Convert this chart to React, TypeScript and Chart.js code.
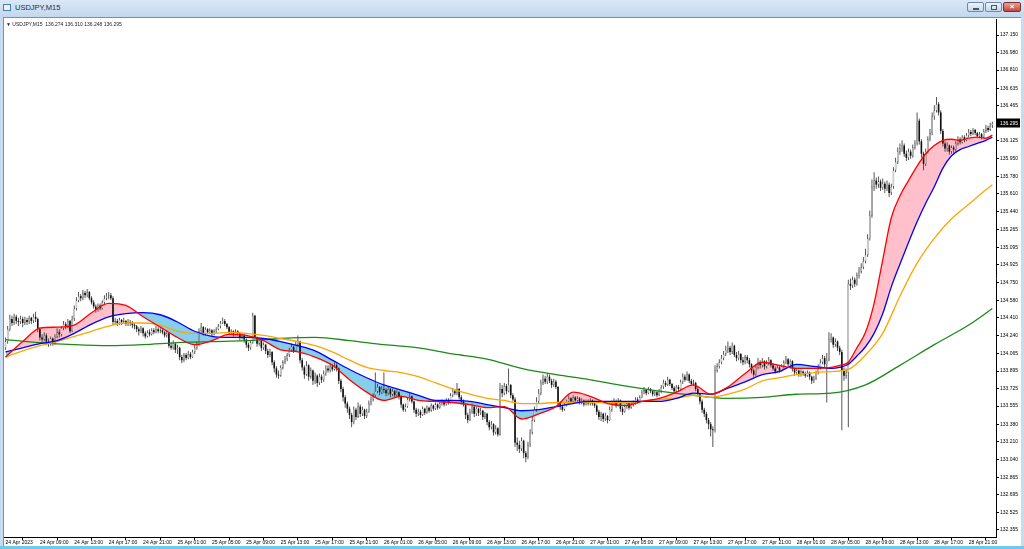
import React, { useEffect, useRef } from 'react';
import { Chart, registerables } from 'chart.js';

Chart.register(...registerables);

// ---- USDJPY M15 bars (index 0 = 24 Apr 05:00), 16 bars per line (4 hours) ----
const opens = [
  134.12,134.18,134.30,134.40,134.36,134.42,134.38,134.37,134.40,134.36,134.39,134.37,134.41,134.38,134.42,134.40,
  134.30,134.22,134.20,134.24,134.18,134.16,134.21,134.17,134.23,134.27,134.25,134.31,134.35,134.33,134.38,134.28,
  134.40,134.50,134.58,134.62,134.60,134.65,134.63,134.66,134.60,134.56,134.52,134.49,134.53,134.50,134.56,134.60,
  134.62,134.63,134.60,134.37,134.38,134.36,134.39,134.37,134.38,134.35,134.37,134.36,134.34,134.33,134.30,134.28,
  134.31,134.26,134.23,134.27,134.25,134.29,134.27,134.30,134.28,134.29,134.27,134.24,134.26,134.14,134.12,134.16,
  134.10,134.12,134.03,134.00,134.05,134.02,134.06,134.03,134.08,134.12,134.15,134.28,134.32,134.26,134.30,134.27,
  134.29,134.25,134.28,134.30,134.33,134.36,134.38,134.35,134.32,134.27,134.28,134.25,134.28,134.26,134.22,134.24,
  134.20,134.15,134.12,134.17,134.43,134.22,134.16,134.19,134.12,134.15,134.09,134.05,134.08,133.98,133.92,133.86,
  133.85,133.93,133.98,134.01,134.05,134.10,134.13,134.09,134.15,134.18,134.00,133.93,133.86,133.95,133.84,133.90,
  133.80,133.85,133.78,133.84,133.81,133.87,133.92,133.90,133.94,133.91,133.95,133.92,133.80,133.72,133.64,133.58,
  133.53,133.47,133.40,133.52,133.45,133.55,133.48,133.52,133.46,133.50,133.58,133.62,133.66,133.70,133.74,133.69,
  133.72,133.71,133.68,133.72,133.67,133.70,133.66,133.69,133.65,133.57,133.52,133.55,133.62,133.65,133.60,133.52,
  133.48,133.50,133.47,133.53,133.49,133.54,133.51,133.56,133.53,133.57,133.54,133.58,133.60,133.57,133.61,133.59,
  133.66,133.70,133.68,133.72,133.64,133.60,133.57,133.47,133.42,133.50,133.55,133.48,133.53,133.49,133.51,133.45,
  133.48,133.40,133.35,133.38,133.30,133.34,133.28,133.72,133.68,133.75,133.70,133.76,133.66,133.62,133.20,133.18,
  133.14,133.22,133.10,133.06,133.18,133.30,133.42,133.52,133.60,133.68,133.78,133.82,133.79,133.84,133.80,133.76,
  133.79,133.74,133.58,133.55,133.52,133.57,133.60,133.63,133.60,133.64,133.61,133.63,133.59,133.61,133.57,133.60,
  133.58,133.61,133.58,133.56,133.50,133.45,133.48,133.43,133.46,133.42,133.52,133.58,133.60,133.56,133.61,133.53,
  133.50,133.55,133.58,133.54,133.57,133.59,133.62,133.60,133.64,133.69,133.71,133.68,133.72,133.70,133.67,133.69,
  133.66,133.70,133.74,133.78,133.76,133.81,133.77,133.73,133.70,133.74,133.72,133.79,133.84,133.81,133.86,133.80,
  133.77,133.78,133.72,133.67,133.60,133.52,133.48,133.42,133.38,133.33,133.32,133.90,133.94,133.98,134.02,134.06,
  134.10,134.12,134.08,134.14,134.05,134.02,134.06,134.00,133.98,134.03,134.00,133.96,133.90,133.86,133.93,133.98,
  133.95,133.99,133.94,133.97,134.00,133.95,133.92,133.89,133.93,133.90,133.94,133.98,134.01,133.96,133.99,133.92,
  133.88,133.90,133.86,133.89,133.87,133.85,133.88,133.84,133.80,133.82,133.88,133.93,133.98,134.02,133.96,134.00,
  134.20,134.22,134.15,134.18,134.12,134.08,133.90,133.85,133.88,134.74,134.72,134.78,134.74,134.82,134.86,134.90,
  134.96,135.02,135.18,135.40,135.68,135.74,135.70,135.73,135.67,135.71,135.66,135.70,135.62,135.68,135.84,135.92,
  136.02,136.05,136.08,136.00,135.96,136.02,135.98,136.06,136.10,136.32,136.12,136.00,135.90,136.02,136.14,136.20,
  136.36,136.42,136.48,136.40,136.22,136.10,136.05,136.08,136.02,136.06,136.04,136.10,136.14,136.11,136.16,136.13,
  136.18,136.21,136.19,136.23,136.20,136.17,136.19,136.16,136.22,136.25,136.23,136.274,
];
const highs = [
  134.22,134.33,134.44,134.43,134.45,134.44,134.41,134.43,134.42,134.42,134.41,134.43,134.42,134.45,134.47,134.41,
  134.32,134.25,134.27,134.26,134.21,134.23,134.22,134.25,134.31,134.30,134.33,134.38,134.37,134.40,134.39,134.43,
  134.53,134.61,134.66,134.64,134.68,134.67,134.69,134.67,134.62,134.58,134.54,134.55,134.55,134.58,134.63,134.65,
  134.66,134.65,134.62,134.41,134.40,134.41,134.40,134.41,134.39,134.40,134.39,134.38,134.36,134.34,134.32,134.33,
  134.32,134.28,134.29,134.30,134.31,134.31,134.33,134.32,134.31,134.30,134.28,134.29,134.27,134.17,134.19,134.17,
  134.15,134.13,134.05,134.07,134.07,134.09,134.08,134.10,134.15,134.18,134.31,134.36,134.33,134.32,134.31,134.31,
  134.30,134.30,134.32,134.35,134.38,134.41,134.40,134.36,134.33,134.30,134.29,134.30,134.29,134.27,134.26,134.25,
  134.21,134.17,134.19,134.46,134.44,134.23,134.21,134.20,134.17,134.16,134.11,134.11,134.09,134.00,133.94,133.90,
  133.95,134.00,134.04,134.07,134.12,134.16,134.14,134.18,134.24,134.19,134.02,133.95,133.99,133.96,133.93,133.91,
  133.88,133.86,133.87,133.86,133.90,133.95,133.95,133.97,133.96,133.98,133.97,133.93,133.82,133.74,133.66,133.60,
  133.55,133.49,133.55,133.54,133.59,133.57,133.55,133.53,133.53,133.61,133.65,133.68,133.88,133.77,133.75,133.75,
  133.88,133.73,133.74,133.73,133.72,133.71,133.71,133.70,133.66,133.58,133.58,133.64,133.68,133.66,133.61,133.54,
  133.53,133.52,133.55,133.54,133.56,133.55,133.58,133.57,133.59,133.58,133.60,133.62,133.61,133.63,133.63,133.68,
  133.73,133.72,133.78,133.73,133.66,133.62,133.58,133.49,133.53,133.58,133.56,133.55,133.54,133.54,133.52,133.50,
  133.49,133.42,133.41,133.39,133.37,133.35,133.78,133.76,133.78,133.77,133.92,133.77,133.68,133.64,133.25,133.22,
  133.25,133.23,133.12,133.21,133.33,133.45,133.55,133.64,133.72,133.81,133.86,133.85,133.87,133.86,133.82,133.82,
  133.81,133.75,133.60,133.57,133.59,133.62,133.66,133.64,133.66,133.65,133.65,133.64,133.63,133.62,133.62,133.62,
  133.63,133.62,133.60,133.57,133.52,133.50,133.49,133.49,133.47,133.55,133.61,133.63,133.62,133.63,133.62,133.55,
  133.57,133.60,133.59,133.59,133.61,133.64,133.64,133.66,133.71,133.74,133.72,133.74,133.73,133.71,133.71,133.70,
  133.72,133.76,133.81,133.80,133.84,133.82,133.78,133.75,133.76,133.76,133.81,133.87,133.86,133.89,133.87,133.82,
  133.81,133.79,133.74,133.68,133.62,133.54,133.50,133.44,133.40,133.36,133.95,133.97,134.01,134.05,134.09,134.14,
  134.18,134.14,134.17,134.15,134.08,134.09,134.07,134.03,134.05,134.05,134.02,133.97,133.92,133.96,134.02,134.00,
  134.02,134.00,134.00,134.03,134.01,133.97,133.94,133.95,133.94,133.96,134.00,134.04,134.02,134.01,134.00,133.93,
  133.92,133.91,133.91,133.90,133.89,133.90,133.89,133.85,133.85,133.90,133.96,134.01,134.05,134.04,134.07,134.27,
  134.26,134.23,134.21,134.19,134.14,134.10,133.93,133.92,134.78,134.79,134.81,134.80,134.85,134.90,134.94,135.00,
  135.08,135.22,135.45,135.75,135.82,135.77,135.78,135.75,135.76,135.73,135.74,135.72,135.71,135.87,135.96,136.06,
  136.10,136.13,136.10,136.03,136.05,136.04,136.09,136.13,136.40,136.34,136.14,136.02,136.05,136.17,136.24,136.40,
  136.47,136.55,136.50,136.42,136.24,136.12,136.11,136.09,136.08,136.08,136.12,136.17,136.16,136.18,136.18,136.20,
  136.24,136.23,136.25,136.24,136.21,136.21,136.20,136.24,136.28,136.27,136.30,136.31,
];
const lows = [
  134.10,134.16,134.28,134.33,134.34,134.35,134.33,134.35,134.32,134.34,134.34,134.35,134.35,134.36,134.37,134.27,
  134.19,134.16,134.18,134.15,134.13,134.14,134.14,134.15,134.21,134.22,134.23,134.29,134.30,134.31,134.26,134.27,
  134.38,134.48,134.56,134.57,134.58,134.60,134.61,134.58,134.54,134.50,134.46,134.47,134.48,134.49,134.54,134.58,
  134.59,134.58,134.34,134.34,134.33,134.34,134.34,134.35,134.33,134.33,134.33,134.31,134.30,134.27,134.24,134.26,
  134.23,134.21,134.22,134.23,134.24,134.25,134.26,134.26,134.26,134.25,134.22,134.22,134.12,134.10,134.10,134.07,
  134.06,134.00,133.97,133.98,134.00,134.01,134.01,134.02,134.06,134.10,134.14,134.26,134.24,134.24,134.25,134.25,
  134.23,134.24,134.26,134.29,134.31,134.35,134.33,134.30,134.25,134.25,134.23,134.24,134.24,134.19,134.20,134.17,
  134.12,134.09,134.10,134.16,134.20,134.13,134.14,134.09,134.10,134.06,134.02,134.03,133.95,133.88,133.83,133.82,
  133.84,133.91,133.96,133.99,134.03,134.08,134.07,134.08,134.13,133.97,133.90,133.82,133.85,133.80,133.82,133.76,
  133.77,133.74,133.76,133.78,133.79,133.85,133.88,133.88,133.89,133.90,133.89,133.77,133.69,133.60,133.54,133.49,
  133.43,133.35,133.38,133.42,133.44,133.45,133.46,133.43,133.44,133.49,133.56,133.60,133.64,133.68,133.66,133.67,
  133.68,133.65,133.66,133.64,133.65,133.64,133.64,133.62,133.54,133.50,133.50,133.54,133.60,133.58,133.49,133.45,
  133.46,133.44,133.46,133.47,133.48,133.49,133.50,133.51,133.52,133.52,133.53,133.56,133.55,133.56,133.57,133.58,
  133.64,133.66,133.66,133.62,133.57,133.55,133.43,133.39,133.41,133.48,133.45,133.46,133.46,133.47,133.42,133.43,
  133.37,133.32,133.33,133.27,133.28,133.26,133.27,133.64,133.66,133.67,133.69,133.63,133.60,133.16,133.12,133.10,
  133.12,133.05,133.01,133.04,133.16,133.28,133.40,133.50,133.58,133.66,133.76,133.77,133.77,133.78,133.73,133.74,
  133.72,133.55,133.52,133.50,133.51,133.55,133.58,133.58,133.59,133.59,133.59,133.57,133.57,133.55,133.56,133.56,
  133.56,133.56,133.54,133.47,133.42,133.41,133.40,133.41,133.39,133.41,133.50,133.56,133.54,133.55,133.50,133.47,
  133.49,133.53,133.52,133.53,133.55,133.57,133.58,133.59,133.63,133.67,133.66,133.67,133.68,133.65,133.65,133.64,
  133.65,133.68,133.72,133.74,133.75,133.75,133.71,133.68,133.69,133.70,133.71,133.77,133.79,133.80,133.78,133.75,
  133.75,133.70,133.65,133.57,133.49,133.45,133.39,133.33,133.26,133.16,133.30,133.88,133.92,133.96,134.00,134.04,
  134.07,134.05,134.06,134.03,133.99,134.00,133.97,133.95,133.96,133.97,133.93,133.87,133.84,133.85,133.91,133.92,
  133.93,133.91,133.92,133.95,133.93,133.90,133.87,133.88,133.88,133.89,133.92,133.96,133.94,133.94,133.89,133.85,
  133.86,133.84,133.84,133.85,133.83,133.84,133.81,133.77,133.78,133.81,133.86,133.91,133.96,133.93,133.59,133.99,
  134.17,134.12,134.13,134.09,134.05,133.32,133.80,133.82,133.35,134.68,134.70,134.71,134.72,134.79,134.84,134.88,
  134.94,135.00,135.16,135.38,135.64,135.66,135.67,135.64,135.65,135.62,135.64,135.58,135.60,135.66,135.82,135.90,
  135.99,136.02,135.97,135.93,135.94,135.95,135.96,136.04,136.08,136.09,135.96,135.84,135.88,136.00,136.12,136.18,
  136.33,136.40,136.37,136.19,136.07,136.02,136.02,135.99,136.00,136.01,136.02,136.08,136.09,136.10,136.11,136.12,
  136.16,136.17,136.18,136.18,136.15,136.15,136.14,136.15,136.20,136.21,136.22,136.248,
];
const closes = [
  134.18,134.30,134.40,134.36,134.42,134.38,134.37,134.40,134.36,134.39,134.37,134.41,134.38,134.42,134.40,134.30,
  134.22,134.20,134.24,134.18,134.16,134.21,134.17,134.23,134.27,134.25,134.31,134.35,134.33,134.38,134.28,134.40,
  134.50,134.58,134.62,134.60,134.65,134.63,134.66,134.60,134.56,134.52,134.49,134.53,134.50,134.56,134.60,134.62,
  134.63,134.60,134.37,134.38,134.36,134.39,134.37,134.38,134.35,134.37,134.36,134.34,134.33,134.30,134.28,134.31,
  134.26,134.23,134.27,134.25,134.29,134.27,134.30,134.28,134.29,134.27,134.24,134.26,134.14,134.12,134.16,134.10,
  134.12,134.03,134.00,134.05,134.02,134.06,134.03,134.08,134.12,134.15,134.28,134.32,134.26,134.30,134.27,134.29,
  134.25,134.28,134.30,134.33,134.36,134.38,134.35,134.32,134.27,134.28,134.25,134.28,134.26,134.22,134.24,134.20,
  134.15,134.12,134.17,134.43,134.22,134.16,134.19,134.12,134.15,134.09,134.05,134.08,133.98,133.92,133.86,133.85,
  133.93,133.98,134.01,134.05,134.10,134.13,134.09,134.15,134.18,134.00,133.93,133.86,133.95,133.84,133.90,133.80,
  133.85,133.78,133.84,133.81,133.87,133.92,133.90,133.94,133.91,133.95,133.92,133.80,133.72,133.64,133.58,133.53,
  133.47,133.40,133.52,133.45,133.55,133.48,133.52,133.46,133.50,133.58,133.62,133.66,133.70,133.74,133.69,133.72,
  133.71,133.68,133.72,133.67,133.70,133.66,133.69,133.65,133.57,133.52,133.55,133.62,133.65,133.60,133.52,133.48,
  133.50,133.47,133.53,133.49,133.54,133.51,133.56,133.53,133.57,133.54,133.58,133.60,133.57,133.61,133.59,133.66,
  133.70,133.68,133.72,133.64,133.60,133.57,133.47,133.42,133.50,133.55,133.48,133.53,133.49,133.51,133.45,133.48,
  133.40,133.35,133.38,133.30,133.34,133.28,133.72,133.68,133.75,133.70,133.76,133.66,133.62,133.20,133.18,133.14,
  133.22,133.10,133.06,133.18,133.30,133.42,133.52,133.60,133.68,133.78,133.82,133.79,133.84,133.80,133.76,133.79,
  133.74,133.58,133.55,133.52,133.57,133.60,133.63,133.60,133.64,133.61,133.63,133.59,133.61,133.57,133.60,133.58,
  133.61,133.58,133.56,133.50,133.45,133.48,133.43,133.46,133.42,133.52,133.58,133.60,133.56,133.61,133.53,133.50,
  133.55,133.58,133.54,133.57,133.59,133.62,133.60,133.64,133.69,133.71,133.68,133.72,133.70,133.67,133.69,133.66,
  133.70,133.74,133.78,133.76,133.81,133.77,133.73,133.70,133.74,133.72,133.79,133.84,133.81,133.86,133.80,133.77,
  133.78,133.72,133.67,133.60,133.52,133.48,133.42,133.38,133.33,133.32,133.90,133.94,133.98,134.02,134.06,134.10,
  134.12,134.08,134.14,134.05,134.02,134.06,134.00,133.98,134.03,134.00,133.96,133.90,133.86,133.93,133.98,133.95,
  133.99,133.94,133.97,134.00,133.95,133.92,133.89,133.93,133.90,133.94,133.98,134.01,133.96,133.99,133.92,133.88,
  133.90,133.86,133.89,133.87,133.85,133.88,133.84,133.80,133.82,133.88,133.93,133.98,134.02,133.96,134.00,134.20,
  134.22,134.15,134.18,134.12,134.08,133.90,133.85,133.88,134.74,134.72,134.78,134.74,134.82,134.86,134.90,134.96,
  135.02,135.18,135.40,135.68,135.74,135.70,135.73,135.67,135.71,135.66,135.70,135.62,135.68,135.84,135.92,136.02,
  136.05,136.08,136.00,135.96,136.02,135.98,136.06,136.10,136.32,136.12,136.00,135.90,136.02,136.14,136.20,136.36,
  136.42,136.48,136.40,136.22,136.10,136.05,136.08,136.02,136.06,136.04,136.10,136.14,136.11,136.16,136.13,136.18,
  136.21,136.19,136.23,136.20,136.17,136.19,136.16,136.22,136.25,136.23,136.27,136.295,
];

// ---- moving averages, read at the given bar indices ----
const fastIdx = [0,8,16,24,32,40,48,56,64,72,80,88,96,104,112,120,128,136,144,152,160,168,176,184,192,200,208,216,224,232,240,248,256,264,272,280,288,296,304,312,320,328,336,344,352,360,368,376,384,388,392,396,400,404,408,412,416,420,424,428,432,436,440,444,448,452,456,459];
const redMA = [134.03,134.18,134.31,134.32,134.34,134.46,134.55,134.53,134.42,134.32,134.22,134.15,134.19,134.25,134.24,134.19,134.10,134.08,134.03,133.95,133.81,133.69,133.61,133.65,133.61,133.60,133.59,133.57,133.54,133.55,133.43,133.48,133.55,133.69,133.65,133.58,133.56,133.60,133.63,133.69,133.76,133.67,133.74,133.87,133.98,133.95,133.92,133.92,133.93,133.95,133.98,134.12,134.27,134.55,134.97,135.38,135.59,135.74,135.88,136.00,136.08,136.13,136.14,136.13,136.15,136.16,136.15,136.18];
const blueMA = [134.08,134.12,134.16,134.19,134.26,134.35,134.42,134.45,134.46,134.44,134.37,134.28,134.23,134.22,134.22,134.21,134.18,134.14,134.09,134.00,133.91,133.83,133.76,133.71,133.66,133.61,133.61,133.60,133.57,133.54,133.51,133.52,133.55,133.58,133.60,133.60,133.60,133.60,133.60,133.63,133.68,133.67,133.73,133.79,133.86,133.89,133.96,133.94,133.92,133.93,133.96,134.04,134.13,134.26,134.45,134.71,134.93,135.14,135.34,135.52,135.68,135.86,135.98,136.04,136.07,136.10,136.13,136.16];
const orangeIdx = [0,8,16,24,32,40,48,56,64,72,80,88,96,104,112,120,128,136,144,152,160,168,176,184,192,200,208,216,224,232,240,248,256,264,272,280,288,296,304,312,320,328,336,344,352,360,368,376,384,392,400,408,416,424,432,440,448,456,459];
const orangeMA = [134.03,134.09,134.14,134.18,134.23,134.28,134.33,134.36,134.36,134.34,134.28,134.26,134.26,134.27,134.26,134.24,134.21,134.18,134.14,134.08,134.00,133.93,133.90,133.88,133.84,133.78,133.72,133.67,133.63,133.61,133.58,133.58,133.59,133.59,133.59,133.59,133.59,133.60,133.62,133.63,133.66,133.64,133.67,133.72,133.80,133.83,133.86,133.88,133.89,133.91,134.05,134.26,134.62,134.94,135.18,135.37,135.51,135.65,135.70];
const greenIdx = [0,16,32,48,64,80,96,112,128,144,160,176,192,208,224,240,256,272,288,304,320,336,352,368,384,400,416,432,448,459];
const greenMA = [134.20,134.17,134.15,134.14,134.15,134.17,134.18,134.19,134.21,134.22,134.19,134.15,134.12,134.06,134.01,133.92,133.86,133.81,133.75,133.70,133.66,133.63,133.64,133.67,133.68,133.76,133.95,134.15,134.34,134.50];

// ---- axes ----
const timeTickIdx = [0,16,32,48,64,80,96,112,128,144,160,176,192,208,224,240,256,272,288,304,320,336,352,368,384,400,416,432,448];
const timeTickLabels = [
  '24 Apr 2023','24 Apr 09:00','24 Apr 13:00','24 Apr 17:00','24 Apr 21:00',
  '25 Apr 01:00','25 Apr 05:00','25 Apr 09:00','25 Apr 13:00','25 Apr 17:00','25 Apr 21:00',
  '26 Apr 01:00','26 Apr 05:00','26 Apr 09:00','26 Apr 13:00','26 Apr 17:00','26 Apr 21:00',
  '27 Apr 01:00','27 Apr 05:00','27 Apr 09:00','27 Apr 13:00','27 Apr 17:00','27 Apr 21:00',
  '28 Apr 01:00','28 Apr 05:00','28 Apr 09:00','28 Apr 13:00','28 Apr 17:00','28 Apr 21:00',
];
const priceTicks = [137.150,136.980,136.810,136.635,136.465,136.295,136.125,135.950,135.780,135.610,135.440,135.265,135.095,134.925,134.750,134.580,134.410,134.240,134.065,133.895,133.725,133.555,133.380,133.210,133.040,132.865,132.695,132.525,132.355];
const lastBar = { open: 136.274, high: 136.31, low: 136.248, close: 136.295 };

const FONT = '"Liberation Sans", Arial, sans-serif';

const priceTag = {
  id: 'priceTag',
  afterDraw(chart: any) {
    const { ctx, chartArea } = chart;
    const y = chart.scales.y;
    const v = closes[closes.length - 1];
    const py = y.getPixelForValue(v);
    ctx.save();
    ctx.fillStyle = '#000';
    ctx.fillRect(chartArea.right + 1, Math.round(py) - 4.5, 23, 9);
    ctx.fillStyle = '#fff';
    ctx.font = `5px ${FONT}`;
    ctx.textBaseline = 'middle';
    ctx.textAlign = 'left';
    ctx.fillText(v.toFixed(3), chartArea.right + 4, py);
    ctx.restore();
  },
};

function ChartCanvas() {
  const ref = useRef<HTMLCanvasElement>(null);
  useEffect(() => {
    const canvas = ref.current;
    if (!canvas) return;
    const bull = closes.map((c, i) => c >= opens[i]);
    const chart = new Chart(canvas, {
      type: 'line',
      data: {
        datasets: [
          {
            type: 'line', label: 'MA fast',
            data: fastIdx.map((x, k) => ({ x, y: redMA[k] })),
            borderColor: '#ff0000', borderWidth: 1.3, pointRadius: 0,
            cubicInterpolationMode: 'monotone',
            fill: { target: 1, above: '#ffc0cb', below: '#87ceeb' },
            order: 1,
          },
          {
            type: 'line', label: 'MA mid',
            data: fastIdx.map((x, k) => ({ x, y: blueMA[k] })),
            borderColor: '#0000ff', borderWidth: 1.3, pointRadius: 0,
            cubicInterpolationMode: 'monotone', fill: false, order: 2,
          },
          {
            type: 'line', label: 'MA slow',
            data: orangeIdx.map((x, k) => ({ x, y: orangeMA[k] })),
            borderColor: '#ffa500', borderWidth: 1.3, pointRadius: 0,
            cubicInterpolationMode: 'monotone', fill: false, order: 3,
          },
          {
            type: 'line', label: 'MA long',
            data: greenIdx.map((x, k) => ({ x, y: greenMA[k] })),
            borderColor: '#1b8a1b', borderWidth: 1.3, pointRadius: 0,
            cubicInterpolationMode: 'monotone', fill: false, order: 4,
          },
          {
            type: 'bar', label: 'body',
            data: closes.map((c, i) => ({ x: i, y: [opens[i], c] })),
            backgroundColor: bull.map((b) => (b ? '#f4f4f4' : '#111111')),
            borderColor: '#222222',
            borderWidth: bull.map((b) => (b ? 0.4 : 0)),
            borderSkipped: false, barThickness: 1.6, grouped: false,
            inflateAmount: 0, order: 5,
          },
          {
            type: 'bar', label: 'wick',
            data: closes.map((_, i) => ({ x: i, y: [lows[i], highs[i]] })),
            backgroundColor: '#444444', borderWidth: 0,
            barThickness: 0.9, grouped: false, inflateAmount: 0, order: 6,
          },
        ],
      },
      options: {
        animation: false,
        responsive: false,
        events: [],
        layout: { padding: 0, autoPadding: false },
        plugins: {
          legend: { display: false },
          tooltip: { enabled: false },
          filler: { drawTime: 'beforeDatasetsDraw', propagate: false },
        },
        scales: {
          x: {
            type: 'linear', min: -0.7, max: 460.7, offset: false,
            afterBuildTicks: (s: any) => { s.ticks = timeTickIdx.map((v) => ({ value: v })); },
            afterFit: (s: any) => { s.height = 9; s.paddingLeft = 0; s.paddingRight = 0; },
            ticks: {
              autoSkip: false, maxRotation: 0, minRotation: 0, align: 'start', padding: 0,
              color: '#000', font: { family: FONT, size: 5 },
              callback: (_v: any, i: number) => timeTickLabels[i] ?? '',
            },
            grid: { display: true, drawOnChartArea: false, drawTicks: true, tickLength: 3, color: '#000' },
            border: { display: true, color: '#000', width: 1 },
          },
          y: {
            type: 'linear', position: 'right', min: 132.287, max: 137.305,
            afterBuildTicks: (s: any) => { s.ticks = priceTicks.map((v) => ({ value: v })); },
            afterFit: (s: any) => { s.width = 24; s.paddingTop = 0; s.paddingBottom = 0; },
            ticks: {
              padding: 1, color: '#000', font: { family: FONT, size: 5 },
              callback: (v: any) => Number(v).toFixed(3),
            },
            grid: { display: true, drawOnChartArea: false, drawTicks: true, tickLength: 3, color: '#000' },
            border: { display: true, color: '#000', width: 1 },
          },
        },
      } as any,
      plugins: [priceTag],
    } as any);
    return () => chart.destroy();
  }, []);
  return (
    <canvas
      ref={ref}
      width={1016}
      height={527}
      style={{ position: 'absolute', left: 4, top: 19, width: 1016, height: 527 }}
    />
  );
}

const btn: React.CSSProperties = {
  position: 'absolute', top: 2, height: 10, borderRadius: 2,
  border: '1px solid #6f88a8', background: 'linear-gradient(#eef4fb, #c5d6ea)',
  boxSizing: 'border-box',
};

export default function App() {
  return (
    <div style={{ position: 'fixed', left: 0, top: 0, width: 1024, height: 549, overflow: 'hidden', background: '#c8dbf0' }}>
      {/* title bar */}
      <div style={{ position: 'absolute', left: 0, top: 0, width: 1024, height: 17, background: 'linear-gradient(#dae8f7, #c2d7ee)' }} />
      <div style={{ position: 'absolute', left: 3, top: 4, width: 8, height: 7, border: '1px solid #4d7db0', background: '#e9f2fb', boxSizing: 'border-box' }} />
      <div style={{ position: 'absolute', left: 15, top: 3, fontFamily: FONT, fontSize: 7.5, lineHeight: '10px', color: '#1b2f4c' }}>USDJPY,M15</div>
      <div style={{ ...btn, left: 967, width: 17 }}>
        <div style={{ position: 'absolute', left: 5, top: 5, width: 6, height: 2, background: '#44556b' }} />
      </div>
      <div style={{ ...btn, left: 985, width: 17 }}>
        <div style={{ position: 'absolute', left: 5, top: 2, width: 6, height: 5, border: '1px solid #44556b', boxSizing: 'border-box' }} />
      </div>
      <div style={{ ...btn, left: 1003, width: 18, border: '1px solid #7d2f28', background: 'linear-gradient(#e8a296, #c4473c)' }}>
        <div style={{ position: 'absolute', left: 0, top: -1, width: 16, textAlign: 'center', color: '#fff', fontFamily: FONT, fontSize: 8, lineHeight: '10px', fontWeight: 'bold' }}>×</div>
      </div>
      {/* chart frame */}
      <div style={{ position: 'absolute', left: 3, top: 17, width: 1018, height: 529, background: '#ffffff', borderLeft: '1px solid #8c8c8c', borderTop: '1px solid #8c8c8c', boxSizing: 'border-box' }} />
      <ChartCanvas />
      <div style={{ position: 'absolute', left: 6, top: 21, fontFamily: FONT, fontSize: 5, lineHeight: '6px', color: '#222', whiteSpace: 'pre' }}>
        {'▼ USDJPY,M15  ' + [lastBar.open, lastBar.high, lastBar.low, lastBar.close].map((v) => v.toFixed(3)).join(' ')}
      </div>
      {/* bottom window edge */}
      <div style={{ position: 'absolute', left: 0, top: 546, width: 1024, height: 3, background: '#6fcaeb' }} />
    </div>
  );
}
